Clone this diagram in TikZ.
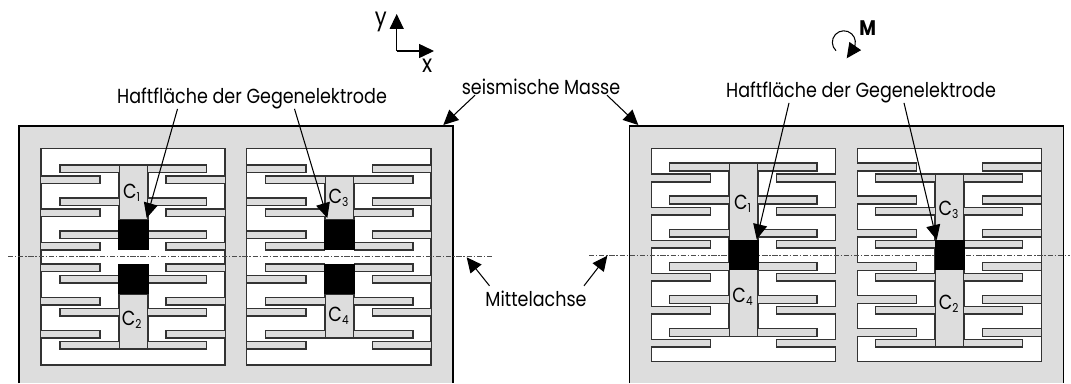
\documentclass[tikz,border=0pt]{standalone}
\usepackage{fontspec}
\setmainfont[FakeStretch=0.86]{Poppins}
\usetikzlibrary{arrows.meta}
\definecolor{massgray}{HTML}{DDDDDD}
\definecolor{edgegray}{HTML}{333333}
\newcommand{\cname}[1]{C\textsubscript{\scriptsize #1}}
\tikzset{
    lbl/.style={inner sep=0pt,font=\fontsize{11.6pt}{13pt}\selectfont},
    biglbl/.style={inner sep=0pt,font=\fontsize{14pt}{15pt}\selectfont},
    pointer/.style={-{Triangle[length=8.5pt,width=8pt]},line width=0.6pt},
    edge/.style={draw=edgegray,line width=0.7pt},
    axisline/.style={dash pattern=on 3pt off 1pt on 0.8pt off 1pt,line width=0.5pt,draw=black!70}
}
% finger open at its left end, right end
\newcommand{\fingerright}[4]{
    \fill[massgray] (#1,#3) rectangle (#2,#4);
    \draw[edge] (#1,#3) -- (#2,#3) -- (#2,#4) -- (#1,#4);
}
\newcommand{\fingerleft}[4]{
    \fill[massgray] (#1,#3) rectangle (#2,#4);
    \draw[edge] (#2,#3) -- (#1,#3) -- (#1,#4) -- (#2,#4);
}
\begin{document}
\begin{tikzpicture}[x=0.02cm,y=-0.02cm]
    \useasboundingbox (0,0) rectangle (1071,383);

    % left mass
    \fill[massgray] (19,126) rectangle (453,383);
    \draw[black,line width=0.7pt] (19,383) -- (19,126) -- (453,126) -- (453,383);
    \filldraw[fill=white,edge] (41,148.3) rectangle (225,365);
    \filldraw[fill=white,edge] (246.7,148.3) rectangle (431,365);
    \draw[axisline] (8,256.7) -- (493,256.7);

    % left mass, window 1
    \filldraw[fill=massgray,edge] (119,165) rectangle (148,220);
    \filldraw[fill=massgray,edge] (119,294) rectangle (148,349);
    \foreach \ytop/\ybot in {165/172.3,198/205.7,231/238.7,275.3/283,308.3/316,341.3/349}{
        \fingerleft{60}{119}{\ytop}{\ybot}
        \fingerright{148}{206.7}{\ytop}{\ybot}
    }
    \foreach \ytop/\ybot in {176/183.3,209/216.7,242.3/250,264/271.7,297.3/305,330.3/338}{
        \fingerright{41}{100}{\ytop}{\ybot}
        \fingerleft{166}{225}{\ytop}{\ybot}
    }
    % left mass, window 2
    \filldraw[fill=massgray,edge] (325,176) rectangle (354,220);
    \filldraw[fill=massgray,edge] (325,294) rectangle (354,338);
    \foreach \ytop/\ybot in {176/183.3,209/216.7,242.3/250,264/271.7,297.3/305,330.3/338}{
        \fingerleft{265.3}{325}{\ytop}{\ybot}
        \fingerright{354}{413}{\ytop}{\ybot}
    }
    \foreach \ytop/\ybot in {165/172.3,198/205.7,231/238.7,275.3/283,308.3/316,341.3/349}{
        \fingerright{246.7}{306}{\ytop}{\ybot}
        \fingerleft{372.3}{431}{\ytop}{\ybot}
    }
    \fill[black] (118.3,220) rectangle (148.7,250);
    \fill[black] (118.3,264) rectangle (148.7,294);
    \fill[black] (324.3,220) rectangle (354.7,250);
    \fill[black] (324.3,264) rectangle (354.7,294);

    % right mass
    \fill[massgray] (629.3,126) rectangle (1063.3,383);
    \draw[black,line width=0.7pt] (629.3,383) -- (629.3,126) -- (1063.3,126) -- (1063.3,383);
    \filldraw[fill=white,edge] (651.3,148.3) rectangle (835.7,361.7);
    \filldraw[fill=white,edge] (857.3,148.3) rectangle (1041.3,361.7);
    \draw[axisline] (589,255) -- (1070,255);

    % right mass, window 1
    \filldraw[fill=massgray,edge] (729,163) rectangle (758,336.3);
    \foreach \ytop/\ybot in {163/171,196/204,229.3/237,262.3/270.3,295.3/303.3,328.7/336.3}{
        \fingerleft{669.3}{729}{\ytop}{\ybot}
        \fingerright{758}{817}{\ytop}{\ybot}
    }
    \foreach \ytop/\ybot in {174/182,207.3/215,240.3/248,273.3/281,306.7/314,339.7/347}{
        \fingerright{651.3}{710.3}{\ytop}{\ybot}
        \fingerleft{776.3}{835.7}{\ytop}{\ybot}
    }
    % right mass, window 2
    \filldraw[fill=massgray,edge] (935,174) rectangle (964,347);
    \foreach \ytop/\ybot in {174/182,207.3/215,240.3/248,273.3/281,306.7/314,339.7/347}{
        \fingerleft{875.7}{935}{\ytop}{\ybot}
        \fingerright{964}{1022.7}{\ytop}{\ybot}
    }
    \foreach \ytop/\ybot in {163/171,196/204,229.3/237,262.3/270.3,295.3/303.3,328.7/336.3}{
        \fingerright{857.3}{916.3}{\ytop}{\ybot}
        \fingerleft{982.3}{1041.3}{\ytop}{\ybot}
    }
    \fill[black] (728.5,240) rectangle (758.5,270);
    \fill[black] (934.5,240) rectangle (964.5,270);

    % capacitor labels
    \node[lbl] (c1_l) at (132,193) {\cname{1}};
    \node[lbl] (c2_l) at (132,320) {\cname{2}};
    \node[lbl] (c3_l) at (339,198) {\cname{3}};
    \node[lbl] (c4_l) at (339,316) {\cname{4}};
    \node[lbl] (c1_r) at (743,204) {\cname{1}};
    \node[lbl] (c4_r) at (743,297) {\cname{4}};
    \node[lbl] (c3_r) at (949,210) {\cname{3}};
    \node[lbl] (c2_r) at (949,304) {\cname{2}};

    % labels
    \node[lbl] (haft_l) at (252,98) {Haftfl\"ache der Gegenelektrode};
    \node[lbl] (haft_r) at (861,92) {Haftfl\"ache der Gegenelektrode};
    \node[lbl] (masse) at (541,87) {seismische Masse};
    \node[lbl] (achse) at (536,299) {Mittelachse};

    \coordinate (t_c1_l) at (146.7,218);
    \coordinate (t_c3_l) at (327.3,218);
    \coordinate (t_c1_r) at (756.7,239.3);
    \coordinate (t_c3_r) at (936.7,240);
    \coordinate (t_masse_l) at (443.3,125);
    \coordinate (t_masse_r) at (638.3,125);
    \coordinate (t_achse_l) at (466.7,257.3);
    \coordinate (t_achse_r) at (607.3,255.7);

    \draw[pointer] ([xshift=-1.49cm]haft_l.south) -- (t_c1_l);
    \draw[pointer] ([xshift=0.85cm]haft_l.south) -- (t_c3_l);
    \draw[pointer] ([xshift=-1.44cm]haft_r.south) -- (t_c1_r);
    \draw[pointer] ([xshift=0.86cm]haft_r.south) -- (t_c3_r);
    \draw[pointer] ([xshift=-1.32cm]masse.south) -- (t_masse_l);
    \draw[pointer] ([xshift=1.32cm]masse.south) -- (t_masse_r);
    \draw[pointer] ([xshift=-0.93cm,yshift=0.1cm]achse.north) -- (t_achse_l);
    \draw[pointer] ([xshift=0.96cm,yshift=0.1cm]achse.north) -- (t_achse_r);

    % axes
    \coordinate (origin) at (396.7,51);
    \coordinate (y_tip) at (396.7,14);
    \coordinate (x_tip) at (434,51);
    \node[biglbl] (y_lbl) at (380.7,22) {y};
    \node[biglbl] (x_lbl) at (427.3,66) {x};
    \draw[pointer] (origin) -- (y_tip);
    \draw[pointer] (origin) -- (x_tip);

    % moment
    \node[lbl,font=\fontsize{12pt}{13pt}\selectfont\bfseries] (moment) at (867.7,28.3) {M};
    \coordinate (m_start) at (836,50.7);
    \coordinate (m_tip) at (846.7,58.3);
    \draw[pointer] (m_start) arc[start angle=133,end angle=395,radius=11.5] -- (m_tip);
\end{tikzpicture}
\end{document}
